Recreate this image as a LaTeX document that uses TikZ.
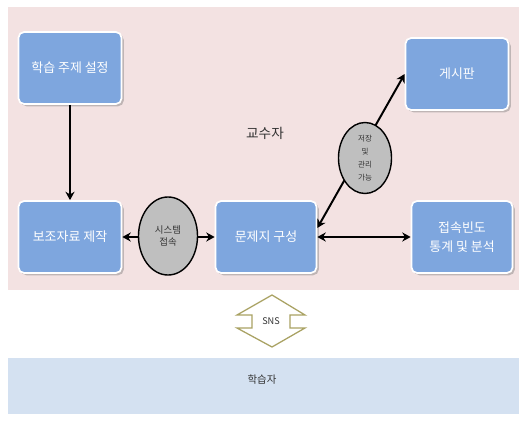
\documentclass[tikz,border=0pt]{standalone}
\usepackage{fontspec}
\setmainfont{Noto Sans CJK KR}
\usepackage{tikz}
\usetikzlibrary{positioning,arrows.meta,shapes.geometric,shadows}
\definecolor{teachbg}{HTML}{F3E2E2}
\definecolor{learnbg}{HTML}{D4E1F1}
\definecolor{taskc}{HTML}{7EA6DE}
\definecolor{hubc}{HTML}{BFBFBF}
\definecolor{snsc}{HTML}{A9A263}
\tikzset{
  stepbox/.style={rectangle, rounded corners=4pt, draw=white, line width=1.2pt, fill=taskc,
    text=white, minimum width=2.575cm, minimum height=1.8cm, align=center, inner sep=1pt,
    font=\fontsize{9.2}{14}\selectfont,
    drop shadow={shadow xshift=1.6pt, shadow yshift=-1.6pt, fill=gray, opacity=.45}},
  hub/.style={ellipse, draw=black, line width=1pt, fill=hubc, inner sep=0pt, align=center, text=black!80},
  link/.style={line width=1.4pt, {Stealth[length=6pt,width=6.5pt]}-{Stealth[length=6pt,width=6.5pt]}},
  role/.style={text=black!80},
  >=Stealth,
}

\begin{document}
\begin{tikzpicture}[x=0.025cm,y=-0.025cm]
\useasboundingbox (0,0) rectangle (519,421);
% regions
\fill[teachbg] (8,7) rectangle (519,290);
\fill[learnbg] (8,358) rectangle (519,414);

\node[role, font=\fontsize{9.7}{12}\selectfont] (teacher) at (265,133) {교수자};
\node[role, font=\fontsize{7.4}{9}\selectfont] (learner) at (262,380) {학습자};

% boxes
\node[stepbox] (topic) at (70,68) {학습 주제 설정};
\node[stepbox] (aux) at (70,237) {보조자료 제작};
\node[stepbox, minimum width=2.525cm] (prob) at (266,237) {문제지 구성};
\node[stepbox] (board) at (457,74) {게시판};
\node[stepbox, minimum width=2.525cm] (stat) at (462,237) {접속빈도\\통계 및 분석};

% connectors
\draw[line width=1.4pt, -{Stealth[length=6pt,width=6.5pt]}] (topic) -- (aux);
\draw[link] (aux) -- (prob);
\draw[link] (prob) -- (stat);
\draw[link] (prob.10) -- (board.west);

% ellipses on the lines
\node[hub, minimum width=1.475cm, minimum height=1.95cm, font=\fontsize{6.7}{8.5}\selectfont] (sys) at (168,236) {시스템\\접속};
\node[hub, minimum width=1.325cm, minimum height=1.775cm, font=\fontsize{5.4}{9.2}\selectfont] (store) at (365,158) {저장\\및\\관리\\가능};

% SNS link
\draw[snsc, line width=0.9pt, fill=white, line join=miter]
  (272,295) -- (305,315) -- (290,315) -- (290,328) -- (305,328) -- (272,347)
  -- (237,328) -- (252,328) -- (252,315) -- (237,315) -- cycle;
\node[role, font=\fontsize{6.5}{8}\selectfont] (sns) at (271,321) {SNS};
\end{tikzpicture}
\end{document}
